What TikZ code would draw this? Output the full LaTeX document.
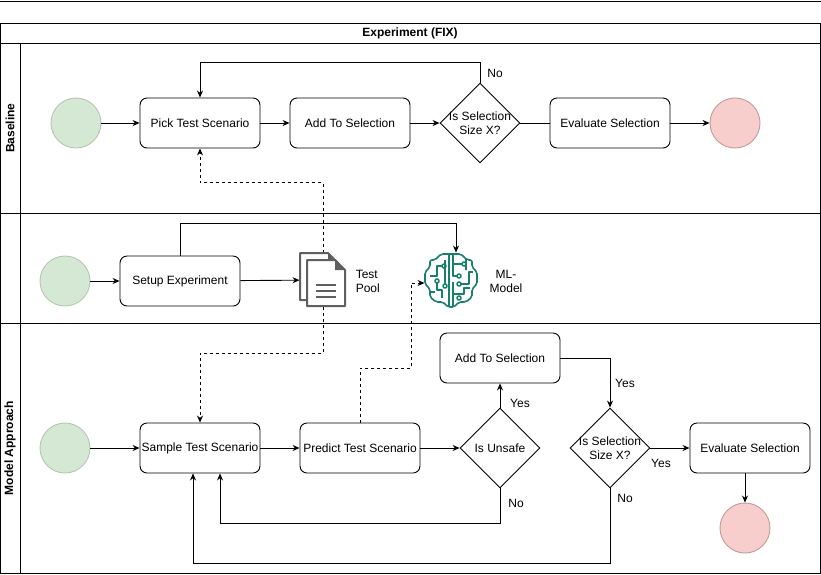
\documentclass[tikz,border=0pt]{standalone}
\usepackage{fontspec}
\setmainfont{Liberation Sans}
\usetikzlibrary{arrows.meta,calc,shapes.geometric}
\definecolor{startfill}{HTML}{D5E8D4}
\definecolor{startline}{HTML}{B4C6B2}
\definecolor{endfill}{HTML}{F8CECC}
\definecolor{endline}{HTML}{C29A98}
\definecolor{docgray}{HTML}{5F5F5F}
\definecolor{brainteal}{HTML}{17806D}
\def\txt{\fontsize{12}{14}\selectfont}
\tikzset{
	task/.style={draw, rounded corners=7pt, minimum width=120pt, minimum height=50pt, inner sep=1pt, font=\txt},
	decision/.style={draw, diamond, minimum size=80pt, inner sep=0pt, font=\txt},
	startev/.style={circle, draw=startline, fill=startfill, minimum size=50pt, inner sep=0pt},
	endev/.style={circle, draw=endline, fill=endfill, minimum size=50pt, inner sep=0pt},
	flow/.style={-{Stealth[length=7pt,width=6pt]}},
	dashflow/.style={flow, dash pattern=on 3pt off 3pt},
	plain/.style={font=\txt},
	lanetitle/.style={font=\bfseries\txt, rotate=90},
}

\begin{document}
\begin{tikzpicture}[x=1pt, y=-1pt, line width=0.9pt]
		%%%%% START %%%%%
		\useasboundingbox (0,0) rectangle (821,574);
		
		% pool and lanes
		\draw (0,1) -- (821,1);
		\draw (0,23) rectangle (820,573);
		\draw (0,43) -- (820,43);
		\draw (20,43) -- (20,573);
		\draw (0,213) -- (820,213);
		\draw (0,323) -- (820,323);
		\node[font=\bfseries\txt] (pooltitle) at (410,33) {Experiment (FIX)};
		\node[lanetitle] (lanebase) at (10,128) {Baseline};
		\node[lanetitle] (lanemodel) at (10,448) {Model Approach};
		
		% baseline
		\node[startev] (s1) at (76,123) {};
		\node[task] (pick) at (200,123) {Pick Test Scenario};
		\node[task] (add1) at (350,123) {Add To Selection};
		\node[decision, label={[plain, align=center]center:{Is Selection\\Size X?}}] (size1) at (480,123) {};
		\node[task] (eval1) at (610,123) {Evaluate Selection};
		\node[endev] (e1) at (735,123) {};
		
		\draw[flow] (s1) -- (pick);
		\draw[flow] (pick) -- (add1);
		\draw[flow] (add1) -- (size1);
		\draw (size1) -- (eval1);
		\draw[flow] (eval1) -- (e1);
		\draw[flow] (size1.north) -- ++(0,-20) -| (pick.north);
		\node[plain] (no1) at (495,73) {No};
		
		% setup
		\node[startev] (s2) at (65,281) {};
		\node[task] (setup) at (180,281) {Setup Experiment};
		\node[minimum width=46pt, minimum height=54pt, inner sep=0pt] (pool) at (323,280) {};
		\node[minimum width=52pt, minimum height=54pt, inner sep=0pt] (ml) at (451,280) {};
		\node[plain, align=left, anchor=west] (poollabel) at (352,281) {Test\\Pool};
		\node[plain, align=center] (mllabel) at (506,281) {ML-\\Model};
		
		\draw[flow] (s2) -- (setup);
		\draw[flow] (setup) -- (pool);
		\draw[flow] (setup.north) -- ++(0,-32) -| ($(ml.north)+(5,0)$);
		
		% model approach
		\node[startev] (s3) at (65,448) {};
		\node[task] (sample) at (200,448) {Sample Test Scenario};
		\node[task] (predict) at (360,448) {Predict Test Scenario};
		\node[decision] (unsafe) at (500,448) {Is Unsafe};
		\node[task] (add2) at (500,358) {Add To Selection};
		\node[decision, label={[plain, align=center]center:{Is Selection\\Size X?}}] (size2) at (610,448) {};
		\node[task] (eval2) at (750,448) {Evaluate Selection};
		\node[endev] (e2) at (745,528) {};
		
		\draw[flow] (s3) -- (sample);
		\draw[flow] (sample) -- (predict);
		\draw[flow] (predict) -- (unsafe);
		\draw[flow] (unsafe) -- (add2);
		\draw[flow] (add2) -| (size2);
		\draw[flow] (size2) -- (eval2);
		\draw[flow] (e2.north |- eval2.south) -- (e2);
		\draw[flow] (unsafe.south) -- ++(0,35) -| ($(sample.south)+(20,0)$);
		\draw[flow] (size2.south) -- ++(0,75) -| ($(sample.south)+(-7,0)$);
		\node[plain] (yes1) at (520,403) {Yes};
		\node[plain] (yes2) at (625,383) {Yes};
		\node[plain] (yes3) at (661,463) {Yes};
		\node[plain] (no2) at (516,503) {No};
		\node[plain] (no3) at (625,498) {No};
		
		% data flows
		\draw[dashflow] (pool.north) -- ++(0,-70) -| (pick.south);
		\draw[dashflow] (pool.south) -- ++(0,46) -| (sample.north);
		\draw[dashflow] (predict.north) |- (411,368) |- ($(ml.west)+(0,3)$);
		
		% test pool icon
		\begin{scope}[draw=docgray, line width=2pt, line join=round]
			\filldraw[fill=white] (300,253) -- (328,253) -- (338,263) -- (338,300) -- (300,300) -- cycle;
			\fill[docgray] (328,253) -- (338,263) -- (328,263) -- cycle;
			\filldraw[fill=white] (307,260) -- (335,260) -- (345,270) -- (345,306) -- (307,306) -- cycle;
			\fill[docgray] (335,260) -- (345,270) -- (335,270) -- cycle;
			\draw (316,285) -- (336,285) (316,291) -- (336,291) (316,297) -- (336,297);
		\end{scope}
		
		% ml model icon
		\begin{scope}[shift={(451,280)}, draw=brainteal, line width=1.6pt, line join=round]
			\filldraw[fill=white, rounded corners=2pt] (0,-26) -- (-10,-26) -- (-16,-20) -- (-21,-20) -- (-21,-13) -- (-26,-8) -- (-26,4) -- (-21,9) -- (-21,17) -- (-15,22) -- (-8,22) -- (-3,27) -- (3,27) -- (8,22) -- (15,22) -- (21,17) -- (21,9) -- (26,4) -- (26,-8) -- (21,-13) -- (21,-20) -- (16,-20) -- (10,-26) -- cycle;
			\draw (-2,-25) -- (-2,26) (2,-25) -- (2,-4) -- (6,-4) (2,2) -- (2,26);
			\draw (-21,-4) -- (-14,-4) -- (-14,-14) -- (-9,-14);
			\draw (-7,-14) circle (2);
			\draw (-14,1) circle (2);
			\draw (-14,3) -- (-14,10) -- (-9,10) -- (-9,18);
			\draw (-6,-20) -- (-6,4);
			\draw (-6,6) circle (2);
			\draw (-21,12) -- (-16,12);
			\draw (2,-16) -- (11,-16);
			\draw (13,-16) circle (2);
			\draw (8,-4) circle (2);
			\draw (8,4) circle (2);
			\draw (10,4) -- (18,4) -- (18,-8) -- (22,-8);
			\draw (2,14) -- (13,14) -- (13,8) -- (19,8);
			\draw (15,-22) -- (15,-10) (8,18) circle (2);
		\end{scope}
		
		%%%%% END %%%%%
	\end{tikzpicture}
\end{document}
